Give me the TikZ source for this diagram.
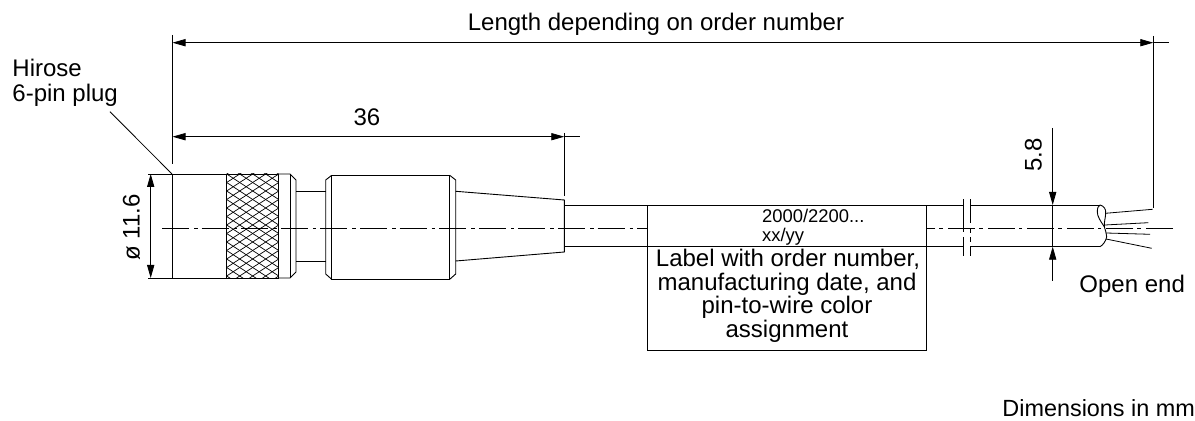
\documentclass[tikz,border=0pt]{standalone}
\usepackage{fontspec}
\setmainfont{Liberation Sans}
\usetikzlibrary{arrows.meta}

\begin{document}
\begin{tikzpicture}[
  x=0.5pt, y=-0.5pt,
  line width=0.45pt,
  >={Triangle[length=6.5pt,width=3.6pt]},
  part/.style={line width=0.45pt},
  dimline/.style={line width=0.4pt},
  axisline/.style={
    line width=0.45pt,
    dash pattern=on 13.5pt off 2.5pt on 1.8pt off 2pt
  },
  caption/.style={
    font=\fontsize{12pt}{14pt}\selectfont, inner sep=0pt, align=center
  },
  smalltext/.style={
    font=\fontsize{9.2pt}{9pt}\selectfont, inner sep=0pt, align=left
  }
  ]
  \useasboundingbox (0,0) rectangle (1195,421);

  % centre line
  \draw[axisline] (162,228.3) -- (647,228.3);
  \draw[axisline] (1173,228.3) -- (927,228.3);

  % plug
  \draw[part] (172,174) rectangle (278.7,278);
  \draw[part] (278.7,174) -- (290,174) -- (296,180) -- (296,272) -- (290,278) -- (278.7,278);
  \draw[part] (290,174) -- (290,278);
  \draw[part] (296,191.3) -- (325.7,191.3);
  \draw[part] (296,261) -- (325.7,261);
  \draw[part] (331.7,175.3) -- (325.7,180) -- (325.7,274) -- (331.7,279.3);
  \draw[part] (331.7,175.3) rectangle (449.7,279.3);
  \draw[part] (449.7,175.3) -- (455.7,180) -- (455.7,274) -- (449.7,279.3);
  \draw[part] (455.7,191.3) -- (564.3,200) -- (564.3,252) -- (455.7,261);

  % knurl
  \begin{scope}
    \clip (226.7,174) rectangle (278.7,278);
    \foreach \k in {-6,...,18} {
      \draw[line width=0.35pt] (226.7,{174+\k*8.5}) -- ++(52,34);
      \draw[line width=0.35pt] (226.7,{174+\k*8.5}) -- ++(52,-34);
    }
  \end{scope}
  \draw[part] (226.7,174) rectangle (278.7,278);

  % cable
  \draw[part] (564.3,205) -- (647.3,205);
  \draw[part] (564.3,246.7) -- (647.3,246.7);
  \draw[part] (926.7,205) -- (963.3,205);
  \draw[part] (926.7,246.7) -- (963.3,246.7);
  \draw[part] (970,205) -- (1100,205);
  \draw[part] (970,246.7) -- (1100,246.7);
  \draw[dimline] (963.3,199.3) -- (963.3,232);
  \draw[dimline] (963.3,237) -- (963.3,256);
  \draw[dimline] (970,199.3) -- (970,223);
  \draw[dimline] (970,229) -- (970,233);
  \draw[dimline] (970,237) -- (970,242);
  \draw[dimline] (970,247) -- (970,256);

  % open end
  \draw[part] (1100,205) .. controls (1104,206) and (1106,209) .. (1105.7,213)
    .. controls (1105.5,218) and (1104,222) .. (1104.3,226.7)
    .. controls (1105,230) and (1106.7,233) .. (1106.7,236.7)
    .. controls (1106,241) and (1103,245) .. (1100,246.7);
  \draw[part] (1104.3,226.7) .. controls (1101,222) and (1097,216) .. (1097.3,211.7)
    .. controls (1097.5,208) and (1098,206) .. (1100,205);
  \draw[dimline] (1105.5,213.3) -- (1152.7,209.3);
  \draw[dimline] (1105,225) -- (1148.3,222.7);
  \draw[dimline] (1106,233) -- (1150,234.3);
  \draw[dimline] (1106,239) -- (1151.7,248.3);

  % label
  \node[draw, line width=0.45pt, fill=white, inner sep=0pt, minimum width=139.7pt, minimum height=72.65pt] (labelbox) at (787,277.65) {};
  \draw[part] (labelbox.west |- 0,246.7) -- (labelbox.east |- 0,246.7);
  \node[smalltext, anchor=base west] (order) at (761.7,223) {2000/2200...};
  \node[smalltext, anchor=base west] (date) at (761.7,241.5) {xx/yy};
  \node[caption, anchor=base] (line1) at (788,266.7) {Label with order number,};
  \node[caption, anchor=base] (line2) at (787,290.3) {manufacturing date, and};
  \node[caption, anchor=base] (line3) at (787,314) {pin-to-wire color};
  \node[caption, anchor=base] (line4) at (787,338) {assignment};

  % extension lines
  \draw[dimline] (172.5,35) -- (172.5,164);
  \draw[dimline] (564.3,133) -- (564.3,196);
  \draw[dimline] (1153.3,36) -- (1153.3,207.7);
  \draw[dimline] (148,174) -- (172,174);
  \draw[dimline] (148,278) -- (172,278);

  % dimensions
  \coordinate (lenL) at (172.5,42.7);
  \coordinate (lenR) at (1153.3,42.7);
  \coordinate (lenS) at (1169,42.7);
  \draw[dimline, <->] (lenL) -- (lenR);
  \draw[dimline] (lenR) -- (lenS);
  \coordinate (plugL) at (172.5,136.7);
  \coordinate (plugR) at (564.3,136.7);
  \coordinate (plugS) at (580,136.7);
  \draw[dimline, <->] (plugL) -- (plugR);
  \draw[dimline] (plugR) -- (plugS);
  \coordinate (diaT) at (150.7,174);
  \coordinate (diaB) at (150.7,278);
  \draw[dimline, <->] (diaT) -- (diaB);
  \coordinate (wireA) at (1052.7,128);
  \coordinate (wireB) at (1052.7,205);
  \coordinate (wireC) at (1052.7,246.7);
  \coordinate (wireD) at (1052.7,280.7);
  \draw[dimline, ->] (wireA) -- (wireB);
  \draw[dimline] (wireB) -- (wireC);
  \draw[dimline, ->] (wireD) -- (wireC);

  % leader
  \coordinate (leadA) at (110,111.7);
  \coordinate (leadB) at (172,174);
  \draw[dimline] (leadA) -- (leadB);

  % texts
  \node[caption, anchor=base] (length) at (656,31) {Length depending on order number};
  \node[caption, anchor=base] (plugdim) at (367,126) {36};
  \node[caption, anchor=base, rotate=90] (diadim) at (139.5,227.5) {ø 11.6};
  \node[caption, anchor=base, rotate=90] (wiredim) at (1041.7,155) {5.8};
  \node[caption, anchor=base west] (hirose) at (12,77) {Hirose};
  \node[caption, anchor=base west] (pin) at (12,101.7) {6-pin plug};
  \node[caption, anchor=base west] (open) at (1079,292.7) {Open end};
  \node[caption, anchor=base west, font=\fontsize{11.7pt}{14pt}\selectfont] (unit) at (1002,417) {Dimensions in mm};
\end{tikzpicture}
\end{document}
